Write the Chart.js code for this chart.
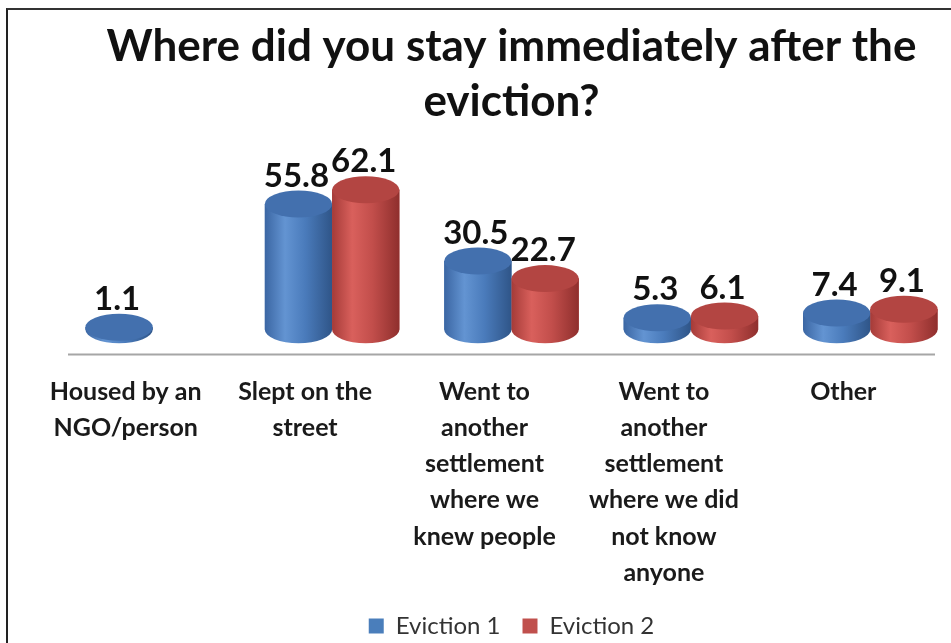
<!DOCTYPE html>
<html>
<head>
<meta charset="utf-8">
<script src="https://cdn.jsdelivr.net/npm/chart.js@4.4.1/dist/chart.umd.min.js"></script>
<style>
  html, body { margin: 0; padding: 0; background: #fff; overflow: hidden; }
  #wrap { position: relative; width: 951px; height: 643px; overflow: hidden; }
  #frame { position: absolute; left: 6px; top: 8px; right: -4px; bottom: -4px; border-left: 2px solid #222; border-top: 2px solid #333; }
  canvas { position: absolute; left: 0; top: 0; }
</style>
</head>
<body>
<div id="wrap">
  <div id="frame"></div>
  <canvas id="chart" width="960" height="643"></canvas>
</div>
<script>
const categories = [
  ['Housed by an', 'NGO/person'],
  ['Slept on the', 'street'],
  ['Went to', 'another', 'settlement', 'where we', 'knew people'],
  ['Went to', 'another', 'settlement', 'where we did', 'not know', 'anyone'],
  ['Other']
];
const eviction1 = [1.1, 55.8, 30.5, 5.3, 7.4];
const eviction2 = [null, 62.1, 22.7, 6.1, 9.1];
const seriesNames = ['Eviction 1', 'Eviction 2'];

const FONT = 'Lato, "Open Sans", sans-serif';

// shading for each series: left edge, highlight, mid, right edge, top cap
const shades = [
  ['#3b66a3', '#6394d2', '#4a7bbb', '#2f5588', '#4370ae'],
  ['#a53b38', '#d9605c', '#c24e4b', '#8f2f2d', '#b34542']
];

// grey floor line, a little shorter than the plot area like the original
const floorLine = {
  id: 'floorLine',
  beforeDatasetsDraw(chart) {
    const ctx = chart.ctx;
    const a = chart.chartArea;
    ctx.save();
    ctx.strokeStyle = '#a6a6a6';
    ctx.lineWidth = 2;
    ctx.beginPath();
    ctx.moveTo(a.left + 5, a.bottom);
    ctx.lineTo(a.right - 25, a.bottom);
    ctx.stroke();
    ctx.restore();
  }
};

const cylinders = {
  id: 'cylinders',
  afterDatasetsDraw(chart) {
    const ctx = chart.ctx;
    chart.data.datasets.forEach((ds, di) => {
      const meta = chart.getDatasetMeta(di);
      const s = shades[di];
      meta.data.forEach((bar, i) => {
        if (ds.data[i] == null) return;
        const w = bar.width;
        const rx = w / 2;
        const ry = w * 0.2;
        const x0 = bar.x - rx;
        const top = bar.y;
        const base = bar.base;
        const g = ctx.createLinearGradient(x0, 0, x0 + w, 0);
        g.addColorStop(0, s[0]);
        g.addColorStop(0.3, s[1]);
        g.addColorStop(0.6, s[2]);
        g.addColorStop(1, s[3]);
        ctx.save();
        ctx.fillStyle = g;
        ctx.beginPath();
        ctx.moveTo(x0, top);
        ctx.lineTo(x0, base);
        ctx.ellipse(bar.x, base, rx, ry, 0, Math.PI, 0, true);
        ctx.lineTo(x0 + w, top);
        ctx.closePath();
        ctx.fill();
        ctx.fillStyle = s[4];
        ctx.beginPath();
        ctx.ellipse(bar.x, top, rx, ry, 0, 0, Math.PI * 2);
        ctx.fill();
        // value label
        ctx.fillStyle = '#111';
        ctx.font = 'bold 33px ' + FONT;
        ctx.textAlign = 'center';
        ctx.textBaseline = 'middle';
        ctx.fillText(ds.data[i].toFixed(1), bar.x - 2, top - 28);
        ctx.restore();
      });
    });
  }
};

new Chart(document.getElementById('chart'), {
  type: 'bar',
  data: {
    labels: categories,
    datasets: [
      { label: seriesNames[0], data: eviction1, backgroundColor: '#4a7ebb' },
      { label: seriesNames[1], data: eviction2, backgroundColor: '#c0504d' }
    ]
  },
  options: {
    responsive: false,
    animation: false,
    events: [],
    layout: { padding: { left: 63, right: 0, top: 19, bottom: -5 } },
    datasets: { bar: { categoryPercentage: 0.75, barPercentage: 1 } },
    scales: {
      x: {
        grid: { display: false, drawTicks: false },
        border: { display: false },
        ticks: {
          color: '#1a1a1a',
          maxRotation: 0,
          padding: 19,
          labelOffset: -27,
          font: { family: FONT, size: 25, weight: 'bold', lineHeight: 1.45 }
        }
      },
      y: {
        display: false,
        min: -11,
        max: 66
      }
    },
    plugins: {
      title: {
        display: true,
        text: ['Where did you stay immediately after the', 'eviction?'],
        color: '#111',
        font: { family: FONT, size: 44, weight: 'bold', lineHeight: 1.25 },
        padding: { top: 0, bottom: 52 }
      },
      legend: {
        position: 'bottom',
        labels: {
          color: '#333',
          boxWidth: 15,
          boxHeight: 15,
          padding: 4,
          font: { family: FONT, size: 24 },
          generateLabels(chart) {
            const items = Chart.defaults.plugins.legend.labels.generateLabels(chart);
            // a wider gap after the first entry, as in the original
            items[0].text += '\u2003';
            return items;
          }
        }
      },
      tooltip: { enabled: false }
    }
  },
  plugins: [floorLine, cylinders]
});
</script>
</body>
</html>
